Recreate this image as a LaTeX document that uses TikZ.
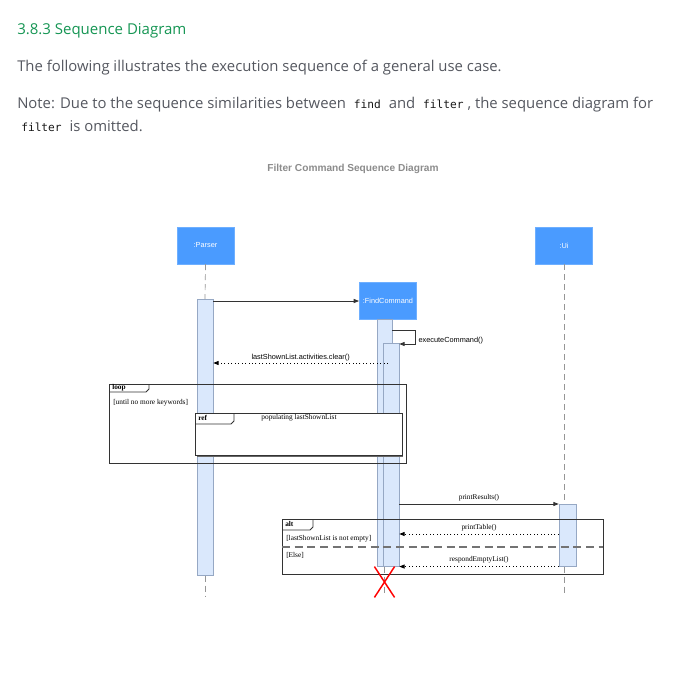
\documentclass[tikz,border=0pt]{standalone}
\usepackage{fontspec}
\setmainfont{Liberation Serif}
\setsansfont{Liberation Sans}
\newfontfamily\pagefont{Open Sans}
\newfontfamily\codefont{DejaVu Sans Mono}
\usetikzlibrary{calc,positioning,arrows.meta,shapes.misc}

\definecolor{headgreen}{RGB}{22,150,84}
\definecolor{bodygray}{RGB}{85,88,96}
\definecolor{headblue}{RGB}{74,155,255}
\definecolor{actfill}{RGB}{218,232,252}
\definecolor{actline}{RGB}{150,168,196}
\definecolor{lifegray}{RGB}{150,150,150}

\newcommand{\code}[1]{\hspace{3pt}{\codefont\fontsize{8.4}{10}\selectfont\color{black!90}#1}\hspace{3pt}}

\tikzset{
  head/.style={draw=headblue!80, fill=headblue, text=white, font=\sffamily\fontsize{5.5}{6}\selectfont,
    minimum width=43pt, minimum height=27.5pt, inner sep=0pt},
  act/.style={draw=actline, fill=actfill, minimum width=12pt, inner sep=0pt},
  lifeline/.style={draw=lifegray, dash pattern=on 4.5pt off 3pt, line width=0.5pt},
  call/.style={draw=black!80, line width=0.6pt, -{Triangle[length=4pt,width=3pt]}},
  ret/.style={draw=black, line width=0.6pt, dotted, -{Triangle[length=4pt,width=3pt]}},
  msglabel/.style={font=\sffamily\fontsize{5.5}{6}\selectfont, inner sep=1pt},
  frame/.style={draw=black!80, line width=0.6pt},
  framelabel/.style={font=\fontsize{5.5}{6}\selectfont, inner sep=0pt}
}

\begin{document}
\begin{tikzpicture}[x=0.75pt,y=-0.75pt]
  \path[use as bounding box, fill=white] (0,0) rectangle (688,679);

  % page text
  \node[anchor=base west, inner sep=0pt, text=headgreen, font=\pagefont\fontsize{11.25}{13}\selectfont] (heading) at (17,34) {3.8.3 Sequence Diagram};
  \node[anchor=base west, inner sep=0pt, text=bodygray, font=\pagefont\fontsize{11.15}{13}\selectfont] (intro) at (17,71) {The following illustrates the execution sequence of a general use case.};
  \node[anchor=base west, inner sep=0pt, text=bodygray, font=\pagefont\fontsize{11.15}{13}\selectfont] (note) at (17,108) {Note: Due to the sequence similarities between \code{find} and \code{filter}, the sequence diagram for};
  \node[anchor=base west, inner sep=0pt, text=bodygray, font=\pagefont\fontsize{11.15}{13}\selectfont] (note2) at (17,131) {\code{filter} is omitted.};
  \node[text=black!45, font=\sffamily\bfseries\fontsize{7.6}{9}\selectfont] (title) at (353,169) {Filter Command Sequence Diagram};

  % participants
  \node[head] (parser) at (205.5,245.5) {:Parser};
  \node[head] (find) at (388,301) {:FindCommand};
  \node[head] (ui) at (564,245.5) {:Ui};
  \coordinate (bottom) at (0,596);

  % activations
  \node[act, anchor=north, minimum height=207pt] (pact) at (205,299) {};
  \node[act, anchor=north, minimum width=11.25pt, minimum height=185.25pt] (fact) at (384.5,319) {};
  \node[act, anchor=north, minimum height=167.25pt] (nact) at (391,343) {};
  \node[act, anchor=north, minimum width=12.75pt, minimum height=46.5pt] (uact) at (567.5,504) {};

  % lifelines
  \draw[lifeline] (parser.south) -- (pact.north);
  \draw[lifeline] (pact.south) -- (pact.south |- bottom);
  \draw[lifeline] (fact.south) -- (fact.south |- bottom);
  \draw[lifeline] (ui.south) -- (ui.south |- uact.north);
  \draw[lifeline] (ui.south |- uact.south) -- (ui.south |- bottom);

  % messages
  \draw[call] (pact.east |- find.west) -- (find.west);
  \coordinate (selfout) at (fact.east |- 0,330);
  \draw[call] (selfout) -- ++(23,0) |- ($(nact.north east)+(0,1)$);
  \node[msglabel, anchor=west] (execlabel) at (417,341) {executeCommand()};
  \coordinate (clearrow) at (0,363);
  \draw[ret] (find.south |- clearrow) -- node[msglabel, above=0.5pt] {lastShownList.activities.clear()} (pact.east |- clearrow);

  % loop frame
  \draw[frame] (109,384) rectangle (406,463);
  \draw[frame] (109,392) -- (146,392) -- (149,389) -- (149,384);
  \node[framelabel, anchor=west, font=\bfseries\fontsize{5.5}{6}\selectfont] (looplabel) at (112,388) {loop};
  \node[framelabel, anchor=west] (loopguard) at (113,403) {[until no more keywords]};

  % ref frame
  \fill[black!60] (197,415) rectangle (403,457);
  \draw[frame, fill=white] (195,413) rectangle (402,455);
  \draw[frame] (195,424) -- (231,424) -- (234,421) -- (234,413);
  \node[framelabel, anchor=west, font=\bfseries\fontsize{5.5}{6}\selectfont] (reflabel) at (198,418) {ref};
  \node[framelabel] (refname) at (299,418) {populating lastShownList};

  % results
  \draw[call] (nact.east |- uact.north) -- node[framelabel, above=2pt] {printResults()} (uact.north west);

  % alt frame
  \draw[frame] (282,519) rectangle (603,574);
  \draw[frame] (282,530) -- (310,530) -- (313,527) -- (313,519);
  \node[framelabel, anchor=west, font=\bfseries\fontsize{5.5}{6}\selectfont] (altlabel) at (285,524) {alt};
  \node[framelabel, anchor=west] (altguard) at (286,539) {[lastShownList is not empty]};
  \draw[draw=black!55, line width=1pt, dash pattern=on 6pt off 3.5pt] (282,547) -- (603,547);
  \node[framelabel, anchor=west] (elseguard) at (286,555) {[Else]};
  \coordinate (tablerow) at (0,534);
  \draw[ret] (uact.west |- tablerow) -- node[framelabel, above=2pt] {printTable()} (nact.east |- tablerow);
  \draw[ret] (uact.south west) -- node[framelabel, above=2pt] {respondEmptyList()} (nact.east |- uact.south west);

  % destroy
  \node[cross out, draw=red, line width=1.1pt, minimum width=14pt, minimum height=22pt, inner sep=0pt] (destroy) at (384.5,582) {};
\end{tikzpicture}
\end{document}
